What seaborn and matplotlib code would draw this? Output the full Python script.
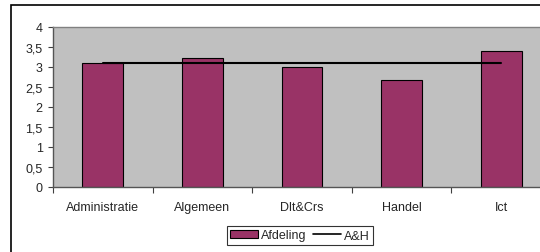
import numpy as np
import pandas as pd
import matplotlib
matplotlib.use('Agg')
import matplotlib.pyplot as plt
import seaborn as sns
from matplotlib.patches import Rectangle, Patch
from matplotlib.lines import Line2D
from matplotlib.ticker import FuncFormatter, MultipleLocator

# data
afdelingen = ['Administratie', 'Algemeen', 'Dlt&Crs', 'Handel', 'Ict']
afdeling_scores = [3.09, 3.23, 3.01, 2.67, 3.4]
ah_scores = [3.1, 3.1, 3.1, 3.1, 3.1]

sns.set_style('white')
plt.rcParams['font.family'] = ['Liberation Sans', 'DejaVu Sans']

df = pd.DataFrame({'afdeling': afdelingen, 'score': afdeling_scores})

fig = plt.figure(figsize=(5.4, 2.53), dpi=100)
fig.patch.set_facecolor('white')

# outer chart frame (cropped on the right and bottom)
fig.patches.append(Rectangle((11 / 540, -0.1), 1.2, 0.1 + 1 - 6 / 253,
                             transform=fig.transFigure, fill=False,
                             edgecolor='black', linewidth=1.2, zorder=0))

ax = fig.add_axes([53 / 540, 1 - 188 / 253, 498 / 540, 160 / 253])
ax.set_facecolor('#c0c0c0')

sns.barplot(data=df, x='afdeling', y='score', color='#993366', width=0.41,
            saturation=1, edgecolor='black', linewidth=0.8, ax=ax)
ax.plot(np.arange(len(afdelingen)), ah_scores, color='black', linewidth=1.5)

ax.set_xlim(-0.5, len(afdelingen) - 0.5)
ax.set_ylim(0, 4)
ax.set_xlabel('')
ax.set_ylabel('')

# y axis with dutch decimal comma
ax.yaxis.set_major_locator(MultipleLocator(0.5))
ax.yaxis.set_major_formatter(FuncFormatter(lambda v, p: f'{v:g}'.replace('.', ',')))
ax.tick_params(axis='y', length=3.5, width=0.8, color='#404040', labelsize=9,
               pad=4, direction='out', left=True)

# category ticks between the groups
ax.set_xticks(np.arange(-0.5, len(afdelingen), 1.0), minor=True)
ax.tick_params(axis='x', which='major', length=0, labelsize=9, pad=10)
ax.tick_params(axis='x', which='minor', length=4, width=0.8, color='#404040',
               direction='out', bottom=True)

for side in ['left', 'bottom']:
    ax.spines[side].set_color('#555555')
    ax.spines[side].set_linewidth(1.0)
ax.spines['top'].set_color('#808080')
ax.spines['top'].set_linewidth(1.0)
ax.spines['right'].set_visible(False)

handles = [Patch(facecolor='#993366', edgecolor='black', linewidth=0.8),
           Line2D([0], [0], color='black', linewidth=1.2)]
leg = fig.legend(handles, ['Afdeling', 'A&H'], loc='center',
                 bbox_to_anchor=(300 / 540, 1 - 236.5 / 253), ncol=2,
                 fontsize=9, frameon=True, fancybox=False,
                 handlelength=2.2, handleheight=0.6, handletextpad=0.3,
                 columnspacing=0.5, borderpad=0.25, borderaxespad=0)
leg.get_frame().set_edgecolor('black')
leg.get_frame().set_linewidth(0.8)

fig.savefig('out.png', dpi=100)
